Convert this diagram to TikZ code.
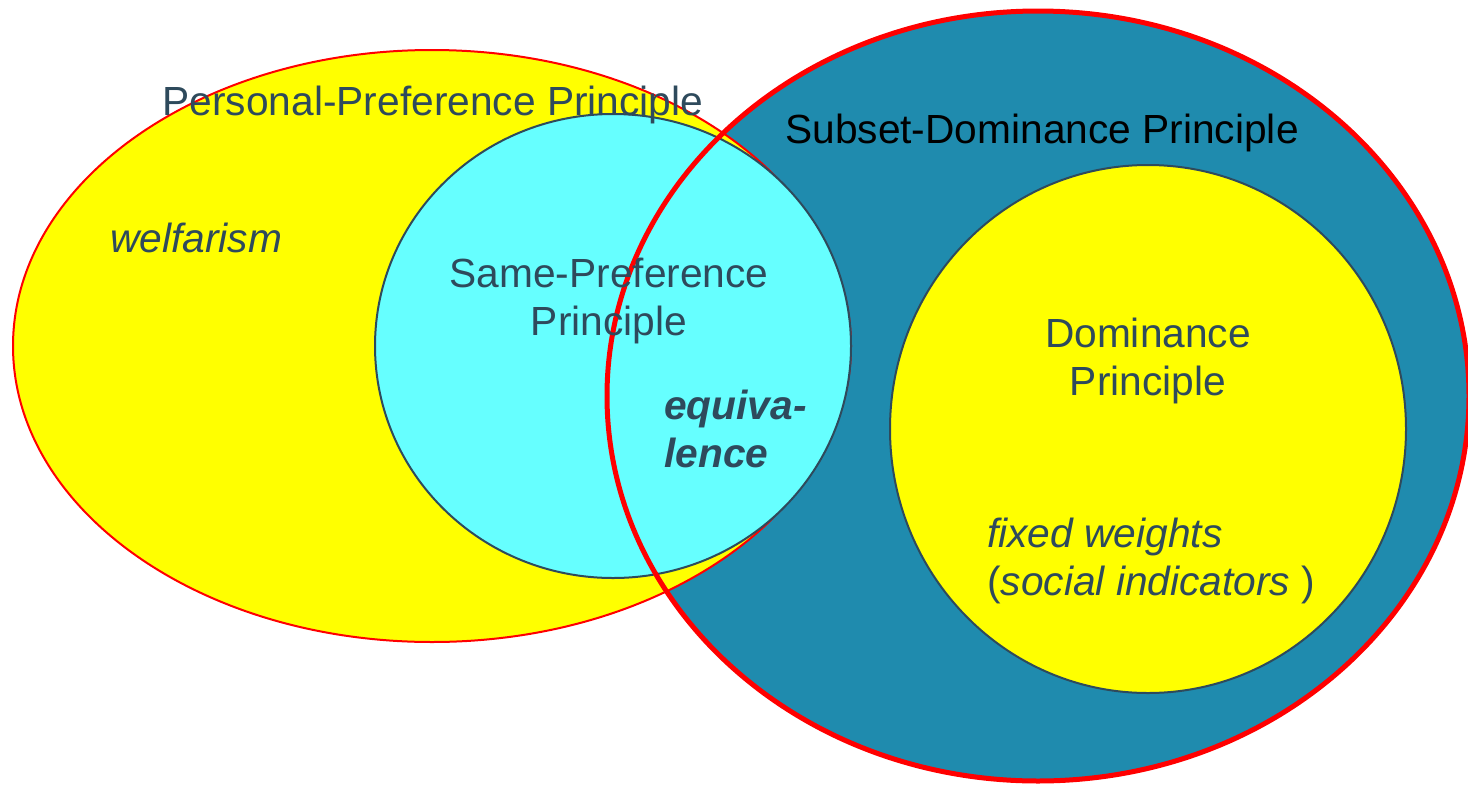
\documentclass[tikz,border=0pt]{standalone}
\usepackage{fontspec}
\setmainfont{Liberation Sans}
\definecolor{setblue}{HTML}{1F8BAE}
\definecolor{setcyan}{HTML}{66FFFF}
\definecolor{setyellow}{HTML}{FFFF00}
\definecolor{inkslate}{HTML}{2E4A5C}
\definecolor{rimred}{HTML}{FF0000}
\begin{document}
\begin{tikzpicture}[x=1pt,y=-1pt,
  lbl/.style={inner sep=0pt, text=inkslate, font=\fontsize{40.7}{48}\selectfont},
  thinrim/.style={draw=inkslate, line width=2pt},
]
\useasboundingbox (0,0) rectangle (1468,785);
% outer set on the right, fill only
\fill[setblue] (1038,396) ellipse [x radius=431pt, y radius=385pt];
% personal-preference set
\filldraw[fill=setyellow, draw=rimred, line width=2pt] (432,346) ellipse [x radius=419pt, y radius=296pt];
% same-preference set
\filldraw[fill=setcyan, thinrim] (613,346) ellipse [x radius=238pt, y radius=232pt];
% rim of the subset-dominance set, on top
\draw[rimred, line width=5pt] (1038,396) ellipse [x radius=431pt, y radius=385pt];
% dominance set
\filldraw[fill=setyellow, thinrim] (1148,429) ellipse [x radius=258pt, y radius=264pt];

% multi-line labels are anchored at the baseline of their last line
\node[lbl, anchor=base] (ppp) at (433,115) {Personal-Preference Principle};
\node[lbl, anchor=base, text=black] (sdp) at (1042,143) {Subset-Dominance Principle};
\node[lbl, anchor=base west, font=\fontsize{40.7}{48}\selectfont\itshape] (wel) at (110,252) {welfarism};
\node[lbl, anchor=base, align=center] (spp) at (609,335) {Same-Preference\\Principle};
\node[lbl, anchor=base west, align=left, font=\fontsize{40.7}{48}\selectfont\bfseries\itshape] (eqv) at (664,467) {equiva-\\lence};
\node[lbl, anchor=base, align=center] (dom) at (1148,395) {Dominance\\Principle};
\node[lbl, anchor=base west, align=left] (fw) at (987,595) {\textit{fixed weights}\\(\textit{social indicators} )};
\end{tikzpicture}
\end{document}
